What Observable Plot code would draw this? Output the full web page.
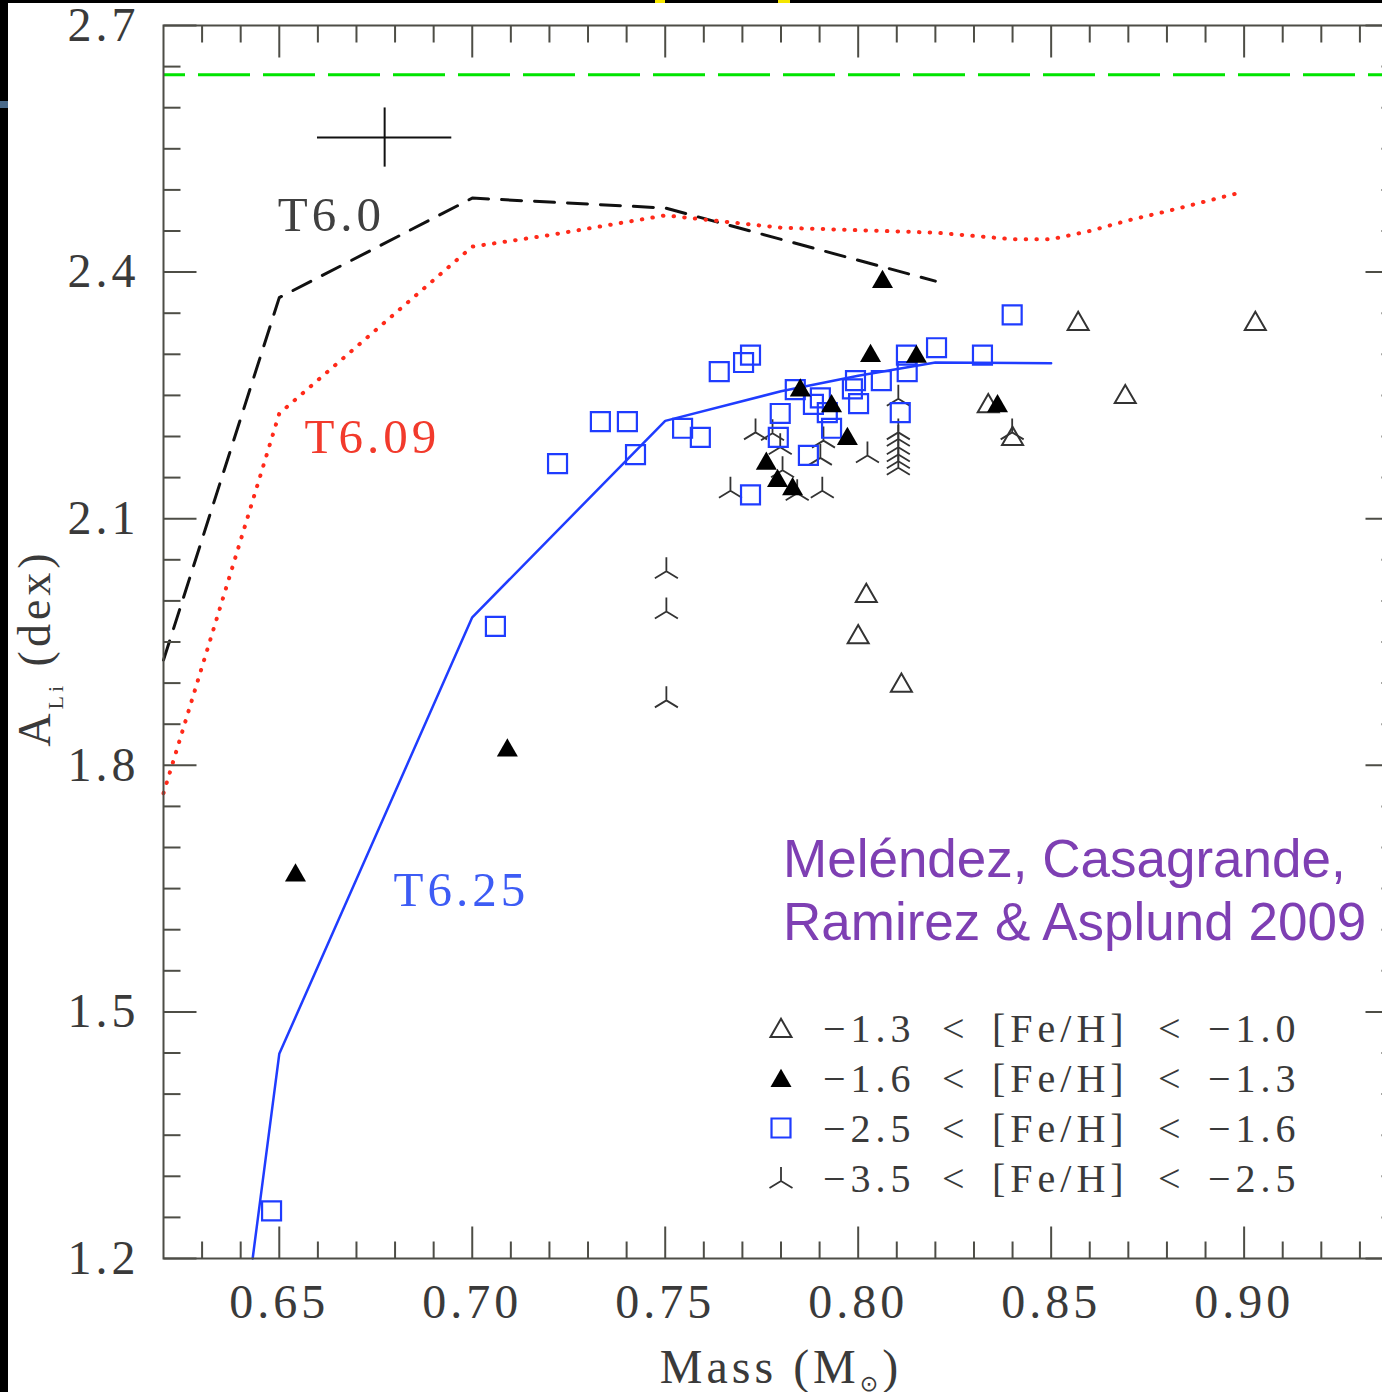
<!DOCTYPE html>
<html><head><meta charset="utf-8">
<script src="https://cdn.jsdelivr.net/npm/d3@7"></script>
<script src="https://cdn.jsdelivr.net/npm/@observablehq/plot@0.6"></script>
<style>
html,body{margin:0;padding:0;background:#fff;}
#wrap{position:relative;width:1382px;height:1392px;overflow:hidden;background:#fff;}
#wrap svg{display:block;}
.deco{position:absolute;}
</style></head><body>
<div id="wrap"></div>
<script>
// ---------- data ----------
const primordialLi = 2.64;
const errCenterMass = 0.6773, errCenterAli = 2.5637, errMass = 0.0174, errAli = 0.036;

const t60Mass = [0.62, 0.65, 0.70, 0.75, 0.82];
const t60Ali  = [1.928, 2.369, 2.490, 2.478, 2.389];

const t609Mass = [0.62, 0.65, 0.70, 0.72, 0.75, 0.78, 0.80, 0.82, 0.84, 0.85, 0.86, 0.87, 0.88, 0.90];
const t609Ali  = [1.766, 2.228, 2.431, 2.445, 2.469, 2.454, 2.451, 2.448, 2.440, 2.440, 2.450, 2.463, 2.474, 2.498];

const t625Mass = [0.6431, 0.65, 0.70, 0.75, 0.78, 0.80, 0.82, 0.85];
const t625Ali  = [1.20, 1.449, 1.980, 2.219, 2.255, 2.274, 2.290, 2.289];

// -1.3 < [Fe/H] < -1.0 (open triangles)
const openTriMass = [0.8570, 0.9029, 0.8692, 0.8337, 0.8400, 0.8021, 0.8000, 0.8112];
const openTriAli  = [2.337, 2.337, 2.248, 2.237, 2.197, 2.006, 1.956, 1.897];
// -1.6 < [Fe/H] < -1.3 (filled triangles)
const fillTriMass = [0.8063, 0.6542, 0.7091, 0.8032, 0.8151, 0.8361, 0.7850, 0.7931, 0.7972, 0.7762, 0.7791, 0.7830];
const fillTriAli  = [2.388, 1.666, 1.818, 2.298, 2.297, 2.237, 2.256, 2.237, 2.197, 2.167, 2.146, 2.136];
// -2.5 < [Fe/H] < -1.6 (blue squares)
const squareMass = [0.6480, 0.7060, 0.7221, 0.7332, 0.7402, 0.7423, 0.7545, 0.7591, 0.7640, 0.7703, 0.7721, 0.7721, 0.7798, 0.7793, 0.7837, 0.7871, 0.7884, 0.7902, 0.7920, 0.7931, 0.7985, 0.7993, 0.8001, 0.8060, 0.8109, 0.8125, 0.8127, 0.8203, 0.8322, 0.8399];
const squareAli  = [1.258, 1.969, 2.167, 2.218, 2.218, 2.178, 2.210, 2.199, 2.279, 2.290, 2.299, 2.129, 2.228, 2.199, 2.257, 2.177, 2.239, 2.247, 2.229, 2.210, 2.258, 2.268, 2.240, 2.268, 2.229, 2.299, 2.279, 2.308, 2.299, 2.348];
// -3.5 < [Fe/H] < -2.5 (three-pronged)
const prongMass = [0.7503, 0.7503, 0.7503, 0.7669, 0.7734, 0.7778, 0.7798, 0.7804, 0.7842, 0.7902, 0.7910, 0.7907, 0.8024, 0.8104, 0.8104, 0.8104, 0.8104, 0.8104, 0.8104, 0.8104, 0.8399];
const prongAli  = [2.036, 1.987, 1.879, 2.134, 2.205, 2.204, 2.187, 2.159, 2.131, 2.174, 2.195, 2.134, 2.177, 2.246, 2.205, 2.197, 2.187, 2.178, 2.170, 2.162, 2.205];

const curveLabelText = ["T6.0", "T6.09", "T6.25"];
const curveLabelMass = [0.6635, 0.6741, 0.6972];
const curveLabelAli  = [2.469, 2.199, 1.648];

const xMajorTicks = [0.65, 0.70, 0.75, 0.80, 0.85, 0.90];
const xMinorTicks = [0.63, 0.64, 0.66, 0.67, 0.68, 0.69, 0.71, 0.72, 0.73, 0.74, 0.76, 0.77, 0.78, 0.79, 0.81, 0.82, 0.83, 0.84, 0.86, 0.87, 0.88, 0.89, 0.91, 0.92, 0.93];
const yMajorTicks = [1.2, 1.5, 1.8, 2.1, 2.4, 2.7];
const yMinorTicks = [1.25, 1.3, 1.35, 1.4, 1.45, 1.55, 1.6, 1.65, 1.7, 1.75, 1.85, 1.9, 1.95, 2.0, 2.05, 2.15, 2.2, 2.25, 2.3, 2.35, 2.45, 2.5, 2.55, 2.6, 2.65];

const legendLo = ["\u22121.3", "\u22121.6", "\u22122.5", "\u22123.5"];
const legendHi = ["\u22121.0", "\u22121.3", "\u22121.6", "\u22122.5"];
const citation = ["Meléndez, Casagrande,", "Ramirez & Asplund 2009"];

// ---------- build tables ----------
const zip = (ms, as) => ms.map((m, i) => ({mass: m, ali: as[i]}));
const t60 = zip(t60Mass, t60Ali), t609 = zip(t609Mass, t609Ali), t625 = zip(t625Mass, t625Ali);
const openTri = zip(openTriMass, openTriAli), fillTri = zip(fillTriMass, fillTriAli);
const squares = zip(squareMass, squareAli), prongs = zip(prongMass, prongAli);
const labels = curveLabelText.map((t, i) => ({text: t, mass: curveLabelMass[i], ali: curveLabelAli[i]}));
const errBar = [{mass: errCenterMass, ali: errCenterAli, dm: errMass, da: errAli}];

// ---------- symbols ----------
const prong = {draw(ctx) { ctx.moveTo(0, 0); ctx.lineTo(0, -14); ctx.moveTo(0, 0); ctx.lineTo(-11.5, 7); ctx.moveTo(0, 0); ctx.lineTo(11.5, 7); }};
const tk = (dx, dy) => ({draw(ctx) { ctx.moveTo(0, 0); ctx.lineTo(dx, dy); }});
const axisColor = "#4d4d46";
const textColor = "#3a3a3a";
const SERIF = "'Liberation Serif', 'Times New Roman', serif";
const triR = 7.8, sqR = 10.7;

const tickMarks = [];
[["bottom", -1], ["top", 1]].forEach(([fa, uy]) => {
  tickMarks.push(Plot.dot(xMinorTicks, {x: d => d, frameAnchor: fa, symbol: tk(0, 17 * uy), stroke: axisColor, strokeWidth: 2, fill: "none"}));
  tickMarks.push(Plot.dot(xMajorTicks, {x: d => d, frameAnchor: fa, symbol: tk(0, 32 * uy), stroke: axisColor, strokeWidth: 2, fill: "none"}));
});
[["left", 1], ["right", -1]].forEach(([fa, ux]) => {
  tickMarks.push(Plot.dot(yMinorTicks, {y: d => d, frameAnchor: fa, symbol: tk(17 * ux, 0), stroke: axisColor, strokeWidth: 2, fill: "none"}));
  tickMarks.push(Plot.dot(yMajorTicks, {y: d => d, frameAnchor: fa, symbol: tk(33 * ux, 0), stroke: axisColor, strokeWidth: 2, fill: "none"}));
});

const plot = Plot.plot({
  width: 1382, height: 1392,
  marginLeft: 163, marginTop: 25, marginBottom: 134, marginRight: -16,
  x: {domain: [0.62, 0.94], axis: null},
  y: {domain: [1.2, 2.7], axis: null},
  style: {background: "transparent", fontFamily: SERIF, letterSpacing: "4px", overflow: "hidden"},
  marks: [
    Plot.ruleY([primordialLi], {stroke: "#00e400", strokeWidth: 3, strokeDasharray: "52,13", strokeDashoffset: 30}),
    Plot.line(t60, {x: "mass", y: "ali", stroke: "#111", strokeWidth: 3, strokeDasharray: "20,13"}),
    Plot.line(t609, {x: "mass", y: "ali", stroke: "#ff2a1a", strokeWidth: 4, strokeDasharray: "0.5,10.2", strokeLinecap: "round"}),
    Plot.line(t625, {x: "mass", y: "ali", stroke: "#1f3cff", strokeWidth: 2.5}),
    Plot.ruleY(errBar, {y: "ali", x1: d => d.mass - d.dm, x2: d => d.mass + d.dm, stroke: "#111", strokeWidth: 2}),
    Plot.ruleX(errBar, {x: "mass", y1: d => d.ali - d.da, y2: d => d.ali + d.da, stroke: "#111", strokeWidth: 2}),
    Plot.dot(prongs, {x: "mass", y: "ali", symbol: prong, r: 5, stroke: "#333", strokeWidth: 1.8, fill: "none"}),
    Plot.dot(openTri, {x: "mass", y: "ali", symbol: "triangle", r: triR, stroke: "#333", strokeWidth: 2, fill: "none"}),
    Plot.dot(squares, {x: "mass", y: "ali", symbol: "square", r: sqR, stroke: "#1f3cff", strokeWidth: 2.2, fill: "none"}),
    Plot.dot(fillTri, {x: "mass", y: "ali", symbol: "triangle", r: triR, fill: "#000", stroke: "none"}),
    Plot.text([labels[0]], {x: "mass", y: "ali", text: "text", fontSize: 49, fill: "#404040"}),
    Plot.text([labels[1]], {x: "mass", y: "ali", text: "text", fontSize: 49, fill: "#f23a2c"}),
    Plot.text([labels[2]], {x: "mass", y: "ali", text: "text", fontSize: 49, fill: "#3d5cf5"}),
    Plot.frame({stroke: axisColor, strokeWidth: 2}),
    ...tickMarks,
    Plot.text(xMajorTicks, {x: d => d, frameAnchor: "bottom", lineAnchor: "middle", dy: 44, text: d => d.toFixed(2), fontSize: 48, fill: textColor}),
    Plot.text(yMajorTicks, {y: d => d, frameAnchor: "left", lineAnchor: "middle", dx: -24, textAnchor: "end", text: d => d.toFixed(1), fontSize: 48, fill: textColor})
  ]
});
document.getElementById("wrap").appendChild(plot);

// ---------- titles, legend, citation ----------
const svg = d3.select(plot.tagName.toLowerCase() === "svg" ? plot : plot.querySelector("svg"));

const xt = svg.append("text").attr("x", 781).attr("y", 1383).attr("text-anchor", "middle")
  .attr("font-family", SERIF).attr("font-size", 48).attr("fill", textColor).style("letter-spacing", "4px");
xt.append("tspan").text("Mass (M");
xt.append("tspan").attr("dy", 8).attr("font-size", 22).attr("font-family", "'DejaVu Sans', sans-serif").text("\u2299");
xt.append("tspan").attr("dy", -8).text(")");

const yt = svg.append("text").attr("transform", "translate(50,648) rotate(-90)").attr("text-anchor", "middle")
  .attr("font-family", SERIF).attr("font-size", 46).attr("fill", textColor).style("letter-spacing", "4px");
yt.append("tspan").text("A");
yt.append("tspan").attr("dy", 13).attr("font-size", 22).text("Li");
yt.append("tspan").attr("dy", -13).text(" (dex)");

const lg = svg.append("g").attr("font-family", SERIF).attr("font-size", 40).attr("fill", textColor)
  .attr("text-anchor", "start").style("letter-spacing", "5px");
const legendSym = [
  {type: d3.symbolTriangle, r: triR, fill: "none", stroke: "#333", sw: 2, dy: 3},
  {type: d3.symbolTriangle, r: triR, fill: "#000", stroke: "none", sw: 0, dy: 3},
  {type: d3.symbolSquare, r: sqR, fill: "none", stroke: "#1f3cff", sw: 2.2, dy: 0},
  {type: prong, r: 5, fill: "none", stroke: "#333", sw: 1.8, dy: 3}
];
legendLo.forEach((lo, i) => {
  const cy = 1028 + i * 50, s = legendSym[i];
  lg.append("path").attr("transform", `translate(781,${cy + s.dy})`)
    .attr("d", d3.symbol(s.type, s.r * s.r * Math.PI)())
    .attr("fill", s.fill).attr("stroke", s.stroke).attr("stroke-width", s.sw);
  const base = cy + 14;
  [[lo, 823], ["<", 942], ["[Fe/H]", 992], ["<", 1158], [legendHi[i], 1208]].forEach(([t, x]) => {
    lg.append("text").attr("x", x).attr("y", base).attr("text-anchor", "start").text(t);
  });
});

const ct = svg.append("g").attr("font-family", "'Liberation Sans', Arial, sans-serif").attr("font-size", 53)
  .attr("fill", "#7e3fb3").attr("text-anchor", "start").style("letter-spacing", "0px");
citation.forEach((t, i) => ct.append("text").attr("x", 783).attr("y", 877 + i * 63).attr("text-anchor", "start").text(t));

// ---------- frame decoration of the original screenshot ----------
const wrap = document.getElementById("wrap");
[["0px", "0px", "8px", "1392px", "#000"], ["0px", "0px", "1382px", "3px", "#000"],
 ["0px", "101px", "8px", "7px", "#4a6a8a"], ["655px", "0px", "10px", "3px", "#f5e600"], ["778px", "0px", "12px", "3px", "#f5e600"]]
  .forEach(([l, t, w, h, c]) => {
    const d = document.createElement("div");
    d.className = "deco";
    Object.assign(d.style, {left: l, top: t, width: w, height: h, background: c});
    wrap.appendChild(d);
  });
</script>
</body></html>
